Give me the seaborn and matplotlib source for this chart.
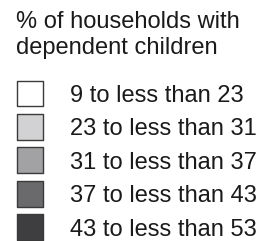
import matplotlib
matplotlib.use("Agg")
import matplotlib.pyplot as plt
import seaborn as sns
import pandas as pd

title = "% of households with\ndependent children"
labels = ["9 to less than 23", "23 to less than 31", "31 to less than 37",
          "37 to less than 43", "43 to less than 53"]
colors = ["#ffffff", "#d2d2d4", "#a2a2a4", "#6a6a6c", "#3e3e40"]

sns.set_theme(style="white")
plt.rcParams["font.family"] = ["Liberation Sans", "DejaVu Sans"]

W, H, DPI = 265, 241, 100
fig = plt.figure(figsize=(W / DPI, H / DPI), dpi=DPI)
ax = fig.add_axes([0, 0, 1, 1])

df = pd.DataFrame({"label": labels, "x": [30.0] * len(labels), "y": list(range(len(labels)))})
sns.scatterplot(data=df, x="x", y="y", hue="label", palette=colors, marker="s",
                s=345, edgecolor="#3a3a3a", linewidth=1.0, legend=False, ax=ax, zorder=3)

row_px0, row_step = 93.5, 33.4
ax.set_xlim(0, W)
ax.set_ylim((H - row_px0) / row_step, -row_px0 / row_step)
ax.axis("off")

for _, r in df.iterrows():
    ax.text(70, r["y"], r["label"], fontsize=17, color="#1a1a1a",
            va="center_baseline", ha="left")

lines = title.split("\n")
fig.text(16 / W, 1 - 27.5 / H, lines[0], fontsize=17, color="#1a1a1a", va="baseline", ha="left")
fig.text(16 / W, 1 - 54 / H, lines[1], fontsize=17, color="#1a1a1a", va="baseline", ha="left")

fig.savefig("out.png", dpi=DPI)
